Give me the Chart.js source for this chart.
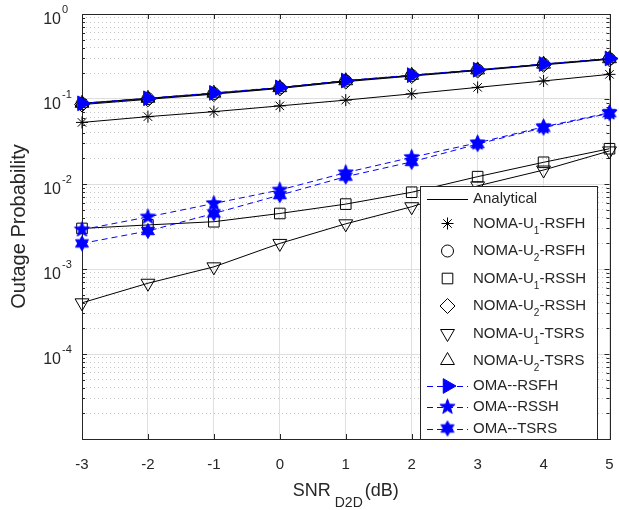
<!DOCTYPE html>
<html lang="en">
<head>
<meta charset="UTF-8">
<title>Outage Probability vs SNR</title>
<script src="https://cdn.jsdelivr.net/npm/chart.js@4.4.0/dist/chart.umd.min.js"></script>
<style>
  html, body { margin: 0; padding: 0; background: #fff; }
</style>
</head>
<body>
<canvas id="grafico" width="619" height="510"></canvas>

<script>
// x axis: SNR_D2D in dB
const snr = [-3, -2, -1, 0, 1, 2, 3, 4, 5];
// labelled decades on the y axis
const yDecades = [1, 0.1, 0.01, 0.001, 0.0001];
const yExponents = ['0', '-1', '-2', '-3', '-4'];

// values
const nomaU1Rsfh = [0.053, 0.062, 0.071, 0.083, 0.097, 0.115, 0.137, 0.163, 0.195];
const nomaU2Rsfh = [0.088, 0.101, 0.116, 0.135, 0.163, 0.189, 0.219, 0.256, 0.297];
const nomaU1Rssh = [0.003, 0.0033, 0.0036, 0.0045, 0.0058, 0.0080, 0.0122, 0.018, 0.026];
const nomaU2Rssh = [0.086, 0.099, 0.114, 0.133, 0.160, 0.186, 0.216, 0.252, 0.293];
const nomaU1Tsrs = [0.0004, 0.00068, 0.00106, 0.0020, 0.0034, 0.0054, 0.0095, 0.0146, 0.0245];
const nomaU2Tsrs = [0.089, 0.102, 0.117, 0.136, 0.164, 0.190, 0.220, 0.257, 0.298];
const omaRsfh = [0.089, 0.102, 0.118, 0.137, 0.165, 0.191, 0.221, 0.258, 0.300];
const omaRssh = [0.0029, 0.0041, 0.0059, 0.0085, 0.0136, 0.0206, 0.0305, 0.047, 0.069];
const omaTsrs = [0.002, 0.0028, 0.0045, 0.0074, 0.0122, 0.0182, 0.0295, 0.046, 0.068];

const BLUE = '#0000ff';
const INK = '#262626';

// filled star pictures for the OMA markers
function estrela(pontas, externo, interno) {
    const s = Math.ceil(externo * 2 + 3);
    const c = document.createElement('canvas');
    c.width = s; c.height = s;
    const g = c.getContext('2d');
    g.beginPath();
    for (let i = 0; i < pontas * 2; i++) {
        const r = i % 2 ? interno : externo;
        const a = -Math.PI / 2 + i * Math.PI / pontas;
        g.lineTo(s / 2 + r * Math.cos(a), s / 2 + r * Math.sin(a));
    }
    g.closePath();
    g.fillStyle = BLUE; g.fill();
    g.strokeStyle = BLUE; g.lineWidth = 1; g.stroke();
    return c;
}
const pentagrama = estrela(5, 8, 3.3);
const hexagrama = estrela(6, 7.5, 4.3);

function serieNoma(label, data, style, radius, rotation) {
    return {
        label: label, data: data,
        borderColor: '#000', borderWidth: 1,
        pointStyle: style, pointRadius: radius, pointRotation: rotation || 0,
        pointBorderColor: '#000', pointBackgroundColor: 'rgba(0,0,0,0)', pointBorderWidth: 1,
        clip: false, order: 2
    };
}
function serieOma(label, data, style, radius, rotation) {
    return {
        label: label, data: data,
        borderColor: BLUE, borderWidth: 1, borderDash: [6, 4],
        pointStyle: style, pointRadius: radius, pointRotation: rotation || 0,
        pointBorderColor: BLUE, pointBackgroundColor: BLUE, pointBorderWidth: 1,
        clip: false, order: 1
    };
}

const datasets = [
    serieNoma('NOMA-U1-RSFH', nomaU1Rsfh, 'star', 6),
    serieNoma('NOMA-U2-RSFH', nomaU2Rsfh, 'circle', 6),
    serieNoma('NOMA-U1-RSSH', nomaU1Rssh, 'rect', 7.5),
    serieNoma('NOMA-U2-RSSH', nomaU2Rssh, 'rectRot', 7.5),
    serieNoma('NOMA-U1-TSRS', nomaU1Tsrs, 'triangle', 8, 180),
    serieNoma('NOMA-U2-TSRS', nomaU2Tsrs, 'triangle', 8),
    serieOma('OMA--RSFH', omaRsfh, 'triangle', 8.5, 90),
    serieOma('OMA--RSSH', omaRssh, pentagrama, 8),
    serieOma('OMA--TSRS', omaTsrs, hexagrama, 8)
];

// legend rows: [main, subscript, rest], dataset index (-1 = analytical line)
const legenda = [
    { partes: ['Analytical', '', ''], ds: -1, dy: 13 },
    { partes: ['NOMA-U', '1', '-RSFH'], ds: 0, dy: 37.5 },
    { partes: ['NOMA-U', '2', '-RSFH'], ds: 1, dy: 65 },
    { partes: ['NOMA-U', '1', '-RSSH'], ds: 2, dy: 92.5 },
    { partes: ['NOMA-U', '2', '-RSSH'], ds: 3, dy: 120 },
    { partes: ['NOMA-U', '1', '-TSRS'], ds: 4, dy: 147.5 },
    { partes: ['NOMA-U', '2', '-TSRS'], ds: 5, dy: 174.5 },
    { partes: ['OMA--RSFH', '', ''], ds: 6, dy: 200 },
    { partes: ['OMA--RSSH', '', ''], ds: 7, dy: 221 },
    { partes: ['OMA--TSRS', '', ''], ds: 8, dy: 242.5 }
];

const FONTE = '"Liberation Sans", Arial, sans-serif';

function marcador(ctx, ds, x, y) {
    ctx.save();
    ctx.lineWidth = ds.pointBorderWidth;
    ctx.strokeStyle = ds.pointBorderColor;
    ctx.fillStyle = ds.pointBackgroundColor;
    Chart.helpers.drawPoint(ctx, {
        pointStyle: ds.pointStyle, radius: ds.pointRadius,
        rotation: ds.pointRotation, borderWidth: ds.pointBorderWidth
    }, x, y);
    ctx.restore();
}

const moldura = {
    id: 'moldura',
    beforeDatasetsDraw(chart) {
        const { ctx, chartArea: a, scales } = chart;
        ctx.save();
        ctx.strokeStyle = INK;
        ctx.lineWidth = 1;
        ctx.beginPath();
        // x ticks, inward on bottom and top
        snr.forEach(v => {
            const px = Math.round(scales.x.getPixelForValue(v)) + 0.5;
            ctx.moveTo(px, a.bottom); ctx.lineTo(px, a.bottom - 5);
            ctx.moveTo(px, a.top); ctx.lineTo(px, a.top + 5);
        });
        // y ticks, inward on left and right
        scales.y.ticks.forEach(t => {
            const py = Math.round(scales.y.getPixelForValue(t.value)) + 0.5;
            const len = t.major ? 5 : 3;
            ctx.moveTo(a.left, py); ctx.lineTo(a.left + len, py);
            ctx.moveTo(a.right, py); ctx.lineTo(a.right - len, py);
        });
        ctx.stroke();
        ctx.strokeRect(Math.round(a.left) + 0.5, Math.round(a.top) + 0.5,
            Math.round(a.right - a.left), Math.round(a.bottom - a.top));
        ctx.restore();
    },
    afterDraw(chart) {
        const { ctx, chartArea: a, scales } = chart;
        ctx.save();
        ctx.fillStyle = INK;

        // y tick labels 10^n
        yDecades.forEach((v, i) => {
            const py = scales.y.getPixelForValue(v);
            ctx.textAlign = 'right';
            ctx.textBaseline = 'alphabetic';
            ctx.font = '16px ' + FONTE;
            ctx.fillText('10', 61, py + 10);
            ctx.textAlign = 'left';
            ctx.font = '11px ' + FONTE;
            ctx.fillText(yExponents[i], 62, py - 1);
        });

        // y title
        ctx.save();
        ctx.translate(25, (a.top + a.bottom) / 2);
        ctx.rotate(-Math.PI / 2);
        ctx.textAlign = 'center';
        ctx.textBaseline = 'alphabetic';
        ctx.font = '20px ' + FONTE;
        ctx.fillText('Outage Probability', 0, 0);
        ctx.restore();

        // x title SNR_D2D(dB)
        ctx.textAlign = 'left';
        ctx.textBaseline = 'alphabetic';
        ctx.font = '18px ' + FONTE;
        const w1 = ctx.measureText('SNR').width;
        const w3 = ctx.measureText('(dB)').width;
        ctx.font = '14px ' + FONTE;
        const w2 = ctx.measureText('D2D').width;
        const x0 = (a.left + a.right) / 2 - (w1 + w2 + w3 + 6) / 2;
        ctx.font = '18px ' + FONTE;
        ctx.fillText('SNR', x0, 496);
        ctx.font = '14px ' + FONTE;
        ctx.fillText('D2D', x0 + w1 + 4, 507);
        ctx.font = '18px ' + FONTE;
        ctx.fillText('(dB)', x0 + w1 + w2 + 6, 496);

        // legend box
        const L = { x: 420, y: 186, w: 177, h: 253 };
        ctx.fillStyle = '#fff';
        ctx.fillRect(L.x, L.y, L.w, L.h);
        ctx.strokeStyle = INK;
        ctx.lineWidth = 1;
        ctx.strokeRect(L.x + 0.5, L.y + 0.5, L.w, L.h);

        legenda.forEach(item => {
            const y = L.y + item.dy;
            const x1 = L.x + 7, x2 = L.x + 48, xm = L.x + 27.5;
            if (item.ds < 0) {
                ctx.save();
                ctx.strokeStyle = '#000';
                ctx.beginPath();
                ctx.moveTo(x1, Math.round(y) + 0.5); ctx.lineTo(x2, Math.round(y) + 0.5);
                ctx.stroke();
                ctx.restore();
            } else {
                const ds = datasets[item.ds];
                if (ds.borderDash) {
                    ctx.save();
                    ctx.strokeStyle = ds.borderColor;
                    ctx.setLineDash([6, 4]);
                    ctx.beginPath();
                    ctx.moveTo(x1, Math.round(y) + 0.5); ctx.lineTo(x2, Math.round(y) + 0.5);
                    ctx.stroke();
                    ctx.restore();
                }
                marcador(ctx, ds, xm, y);
            }
            // text with subscript
            ctx.fillStyle = INK;
            ctx.textAlign = 'left';
            ctx.textBaseline = 'alphabetic';
            let tx = L.x + 53;
            ctx.font = '15px ' + FONTE;
            ctx.fillText(item.partes[0], tx, y + 4);
            tx += ctx.measureText(item.partes[0]).width;
            if (item.partes[1]) {
                ctx.font = '10px ' + FONTE;
                ctx.fillText(item.partes[1], tx, y + 10);
                tx += ctx.measureText(item.partes[1]).width;
            }
            if (item.partes[2]) {
                ctx.font = '15px ' + FONTE;
                ctx.fillText(item.partes[2], tx, y + 4);
            }
        });
        ctx.restore();
    }
};

const ctx = document.getElementById('grafico').getContext('2d');
const grafico = new Chart(ctx, {
    type: 'line',
    data: { labels: snr, datasets: datasets.map(d => Object.assign({}, d, { data: d.data.map((v, i) => ({ x: snr[i], y: v })) })) },
    options: {
        responsive: false,
        animation: false,
        layout: { padding: { left: 82, right: 2, top: 14, bottom: 36 } },
        plugins: { legend: { display: false }, tooltip: { enabled: false } },
        scales: {
            x: {
                type: 'linear', min: -3, max: 5,
                afterBuildTicks: s => { s.ticks = snr.map(v => ({ value: v })); },
                afterFit: s => { s.height = 35; s.paddingLeft = 0; s.paddingRight = 0; },
                ticks: { color: INK, font: { size: 15, family: FONTE }, padding: 17, autoSkip: false, maxRotation: 0 },
                grid: { color: '#dfdfdf', drawTicks: false },
                border: { display: false }
            },
            y: {
                type: 'logarithmic', min: 0.00001, max: 1,
                afterBuildTicks: s => {
                    const t = [];
                    for (let e = -5; e < 0; e++) {
                        for (let m = 1; m <= 9; m++) t.push({ value: m * Math.pow(10, e), major: m === 1 });
                    }
                    t.push({ value: 1, major: true });
                    s.ticks = t;
                },
                afterFit: s => { s.width = 0; s.paddingTop = 0; s.paddingBottom = 0; },
                ticks: { display: false },
                grid: {
                    drawTicks: false,
                    color: c => (c.tick && !c.tick.major) ? '#c4c4c4' : '#dfdfdf'
                },
                border: { display: false, dash: c => (c.tick && !c.tick.major) ? [1, 3] : [] }
            }
        }
    },
    plugins: [moldura]
});
</script>
</body>
</html>
